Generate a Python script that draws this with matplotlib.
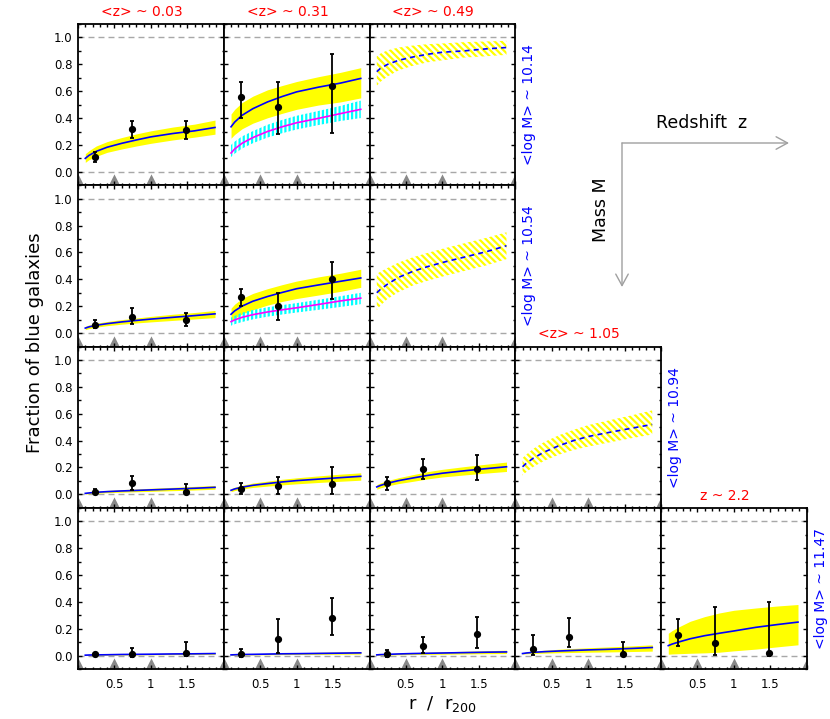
import matplotlib
matplotlib.use('Agg')
import matplotlib.pyplot as plt
from matplotlib.ticker import MultipleLocator, FixedLocator, FixedFormatter, FormatStrFormatter

plt.rcParams['font.family'] = ['DejaVu Sans']
plt.rcParams['hatch.linewidth'] = 1.6

# panel grid (row = mass bin, col = redshift bin)
PANELS = [(0, 0), (0, 1), (0, 2),
          (1, 0), (1, 1), (1, 2),
          (2, 0), (2, 1), (2, 2), (2, 3),
          (3, 0), (3, 1), (3, 2), (3, 3), (3, 4)]
Z_LABELS = ['<z> ~ 0.03', '<z> ~ 0.31', '<z> ~ 0.49', '<z> ~ 1.05', 'z ~ 2.2']
M_LABELS = ['<log M> ~ 10.14', '<log M> ~ 10.54', '<log M> ~ 10.94', '<log M> ~ 11.47']

# panels with only a predicted (hatched) band
PREDICTED = [False, False, True, False, False, True, False, False, False, True,
             False, False, False, False, False]

X_FIT = [0.1, 0.15, 0.25, 0.4, 0.6, 0.8, 1.0, 1.3, 1.6, 1.88]
X_PTS = [0.24, 0.74, 1.48]
X_TRI = [0.0, 0.5, 1.0, 2.0]

FIT_MID = [
    [0.10, 0.122, 0.152, 0.183, 0.212, 0.237, 0.26, 0.285, 0.305, 0.33],
    [0.335, 0.37, 0.42, 0.47, 0.52, 0.56, 0.595, 0.63, 0.66, 0.695],
    [0.745, 0.77, 0.80, 0.83, 0.855, 0.875, 0.89, 0.90, 0.915, 0.925],
    [0.037, 0.046, 0.058, 0.07, 0.083, 0.094, 0.104, 0.117, 0.13, 0.143],
    [0.14, 0.165, 0.20, 0.237, 0.272, 0.302, 0.33, 0.358, 0.385, 0.41],
    [0.30, 0.325, 0.365, 0.415, 0.46, 0.495, 0.525, 0.565, 0.605, 0.65],
    [0.007, 0.01, 0.015, 0.02, 0.025, 0.029, 0.033, 0.039, 0.045, 0.052],
    [0.03, 0.04, 0.053, 0.067, 0.08, 0.092, 0.102, 0.113, 0.124, 0.134],
    [0.055, 0.066, 0.083, 0.102, 0.122, 0.141, 0.157, 0.175, 0.191, 0.205],
    [0.205, 0.23, 0.27, 0.315, 0.362, 0.4, 0.43, 0.462, 0.492, 0.52],
    [0.003, 0.004, 0.005, 0.006, 0.008, 0.009, 0.010, 0.012, 0.013, 0.015],
    [0.005, 0.006, 0.008, 0.009, 0.011, 0.013, 0.014, 0.016, 0.018, 0.02],
    [0.005, 0.007, 0.009, 0.012, 0.015, 0.017, 0.019, 0.022, 0.025, 0.027],
    [0.015, 0.019, 0.024, 0.029, 0.034, 0.038, 0.042, 0.047, 0.053, 0.06],
    [0.074, 0.085, 0.102, 0.125, 0.148, 0.166, 0.183, 0.21, 0.231, 0.249],
]
FIT_LO = [
    [0.07, 0.09, 0.115, 0.145, 0.17, 0.192, 0.212, 0.237, 0.258, 0.28],
    [0.25, 0.278, 0.32, 0.362, 0.402, 0.435, 0.465, 0.497, 0.52, 0.55],
    [0.64, 0.67, 0.71, 0.755, 0.79, 0.815, 0.83, 0.85, 0.86, 0.87],
    [0.025, 0.033, 0.044, 0.055, 0.066, 0.075, 0.083, 0.094, 0.105, 0.115],
    [0.09, 0.11, 0.142, 0.173, 0.208, 0.235, 0.257, 0.283, 0.31, 0.34],
    [0.17, 0.205, 0.255, 0.305, 0.355, 0.39, 0.42, 0.462, 0.503, 0.55],
    [0.002, 0.004, 0.008, 0.012, 0.016, 0.019, 0.022, 0.027, 0.032, 0.038],
    [0.02, 0.028, 0.04, 0.051, 0.061, 0.07, 0.078, 0.088, 0.097, 0.105],
    [0.038, 0.048, 0.063, 0.08, 0.097, 0.115, 0.129, 0.144, 0.158, 0.17],
    [0.14, 0.165, 0.205, 0.25, 0.295, 0.33, 0.355, 0.387, 0.418, 0.445],
    [0.001, 0.001, 0.002, 0.003, 0.004, 0.005, 0.006, 0.007, 0.008, 0.009],
    [0.002, 0.003, 0.004, 0.005, 0.006, 0.007, 0.008, 0.009, 0.010, 0.011],
    [0.002, 0.003, 0.004, 0.006, 0.008, 0.009, 0.010, 0.012, 0.014, 0.015],
    [0.011, 0.013, 0.016, 0.018, 0.021, 0.023, 0.025, 0.027, 0.03, 0.033],
    [0.01, 0.012, 0.014, 0.017, 0.02, 0.025, 0.035, 0.048, 0.065, 0.08],
]
FIT_HI = [
    [0.135, 0.157, 0.192, 0.225, 0.255, 0.282, 0.305, 0.333, 0.355, 0.385],
    [0.43, 0.465, 0.515, 0.563, 0.61, 0.642, 0.672, 0.708, 0.74, 0.775],
    [0.86, 0.88, 0.905, 0.925, 0.94, 0.95, 0.955, 0.965, 0.97, 0.975],
    [0.05, 0.06, 0.073, 0.086, 0.1, 0.112, 0.124, 0.14, 0.153, 0.168],
    [0.185, 0.215, 0.257, 0.295, 0.33, 0.36, 0.387, 0.418, 0.445, 0.475],
    [0.44, 0.457, 0.485, 0.525, 0.565, 0.597, 0.627, 0.668, 0.708, 0.75],
    [0.013, 0.017, 0.023, 0.029, 0.035, 0.04, 0.045, 0.052, 0.059, 0.066],
    [0.042, 0.053, 0.067, 0.084, 0.098, 0.112, 0.123, 0.137, 0.15, 0.16],
    [0.072, 0.085, 0.103, 0.124, 0.147, 0.169, 0.186, 0.206, 0.224, 0.24],
    [0.27, 0.295, 0.34, 0.39, 0.44, 0.48, 0.515, 0.552, 0.588, 0.625],
    [0.006, 0.007, 0.009, 0.010, 0.012, 0.014, 0.015, 0.017, 0.019, 0.021],
    [0.009, 0.010, 0.012, 0.014, 0.016, 0.019, 0.021, 0.024, 0.027, 0.03],
    [0.009, 0.011, 0.014, 0.018, 0.022, 0.025, 0.028, 0.032, 0.036, 0.04],
    [0.019, 0.025, 0.032, 0.04, 0.047, 0.053, 0.058, 0.065, 0.072, 0.08],
    [0.166, 0.185, 0.215, 0.255, 0.29, 0.317, 0.337, 0.354, 0.369, 0.38],
]

# second (lower-mass-cut) fit shown at <z> ~ 0.31
LOWM_PANELS = [1, 4]
LOWM_MID = [
    [0.14, 0.17, 0.212, 0.255, 0.3, 0.335, 0.365, 0.398, 0.433, 0.465],
    [0.085, 0.098, 0.117, 0.137, 0.157, 0.173, 0.188, 0.213, 0.239, 0.26],
]
LOWM_LO = [
    [0.11, 0.135, 0.173, 0.213, 0.255, 0.287, 0.315, 0.348, 0.378, 0.40],
    [0.055, 0.066, 0.082, 0.102, 0.122, 0.138, 0.153, 0.173, 0.194, 0.215],
]
LOWM_HI = [
    [0.20, 0.225, 0.263, 0.303, 0.35, 0.386, 0.417, 0.453, 0.49, 0.53],
    [0.115, 0.128, 0.152, 0.172, 0.192, 0.208, 0.223, 0.248, 0.274, 0.30],
]

# measured fractions with errors (None = no data)
PTS_Y = [[0.11, 0.32, 0.31], [0.56, 0.48, 0.64], None,
         [0.062, 0.12, 0.10], [0.27, 0.20, 0.40], None,
         [0.02, 0.087, 0.017], [0.04, 0.06, 0.08], [0.087, 0.19, 0.19], None,
         [0.01, 0.01, 0.02], [0.01, 0.12, 0.28], [0.012, 0.072, 0.16], [0.05, 0.14, 0.01], [0.15, 0.09, 0.02]]
PTS_LO = [[0.075, 0.25, 0.245], [0.40, 0.28, 0.29], None,
          [0.037, 0.07, 0.05], [0.20, 0.10, 0.25], None,
          [0.005, 0.035, 0.0], [0.005, 0.005, 0.005], [0.035, 0.115, 0.105], None,
          [0.0, -0.01, 0.0], [-0.01, 0.02, 0.15], [-0.007, 0.02, 0.055], [0.005, 0.067, 0.0], [0.07, 0.005, 0.0]]
PTS_HI = [[0.15, 0.38, 0.38], [0.67, 0.67, 0.88], None,
          [0.10, 0.185, 0.15], [0.33, 0.30, 0.53], None,
          [0.037, 0.14, 0.08], [0.087, 0.13, 0.20], [0.13, 0.26, 0.29], None,
          [0.02, 0.06, 0.10], [0.05, 0.27, 0.43], [0.04, 0.14, 0.29], [0.15, 0.28, 0.10], [0.27, 0.36, 0.40]]

W, H = 830, 719
COL_LEFT = [78, 223.75, 369.5, 515.25, 661]
PW, PH = 145.75, 161.25
ROW_TOP = 24

fig = plt.figure(figsize=(W / 100, H / 100), dpi=100)
tri = [(-1, 0), (1, 0), (0, 2)]

n_cols_in_row = {}
for r, c in PANELS:
    n_cols_in_row[r] = max(n_cols_in_row.get(r, 0), c + 1)
first_row_of_col = {}
for r, c in PANELS:
    if c not in first_row_of_col:
        first_row_of_col[c] = r

for k, (r, c) in enumerate(PANELS):
    top = ROW_TOP + r * PH
    ax = fig.add_axes([COL_LEFT[c] / W, 1 - (top + PH) / H, PW / W, PH / H])
    ax.set_xlim(0, 2)
    ax.set_ylim(-0.1, 1.1)

    for yl in (0, 1):
        ax.axhline(yl, color='#a8a8a8', lw=1, ls=(0, (4.3, 2.9)), zorder=0.5)
    ax.plot(X_TRI, [-0.1] * len(X_TRI), ls='none', marker=tri, ms=16,
            color='#888888', mew=0, zorder=0.6)

    if PREDICTED[k]:
        ax.fill_between(X_FIT, FIT_LO[k], FIT_HI[k], facecolor='none',
                        edgecolor='#ffff00', hatch='\\' * 5, lw=0, zorder=1)
        ax.plot(X_FIT, FIT_MID[k], color='#0000ff', lw=1.2, ls=(0, (3, 2.5)), zorder=2)
    else:
        ax.fill_between(X_FIT, FIT_LO[k], FIT_HI[k], color='#ffff00', lw=0, zorder=1)
        ax.plot(X_FIT, FIT_MID[k], color='#0000ff', lw=1.2, zorder=2)
        if k in LOWM_PANELS:
            j = LOWM_PANELS.index(k)
            ax.fill_between(X_FIT, LOWM_LO[j], LOWM_HI[j], facecolor='none',
                            edgecolor='#00ffff', hatch='||||', lw=0, zorder=1.5)
            ax.plot(X_FIT, LOWM_MID[j], color='#ff00ff', lw=1.2, zorder=2)
        y = PTS_Y[k]
        err = [[v - lo for v, lo in zip(y, PTS_LO[k])], [hi - v for v, hi in zip(y, PTS_HI[k])]]
        ax.errorbar(X_PTS, y, yerr=err, fmt='o', color='black', ms=4.2,
                    elinewidth=1.3, capsize=1.6, capthick=1.3, zorder=4)

    # IDL-like axes
    for sp in ax.spines.values():
        sp.set_linewidth(1.3)
    ax.xaxis.set_major_locator(FixedLocator([0, 0.5, 1, 1.5, 2]))
    ax.xaxis.set_major_formatter(FixedFormatter(['', '0.5', '1', '1.5', '']))
    ax.xaxis.set_minor_locator(MultipleLocator(0.1))
    ax.yaxis.set_major_locator(MultipleLocator(0.2))
    ax.yaxis.set_major_formatter(FormatStrFormatter('%.1f'))
    ax.yaxis.set_minor_locator(MultipleLocator(0.1))
    ax.tick_params(which='both', direction='in', top=True, right=True,
                   labelsize=8.5, width=1)
    ax.tick_params(which='major', length=3.2)
    ax.tick_params(which='minor', length=1.8)
    ax.tick_params(axis='x', pad=6.5)
    ax.tick_params(axis='y', pad=3.8)
    if c != 0:
        ax.tick_params(labelleft=False)
    if r != 3:
        ax.tick_params(labelbottom=False)

    if first_row_of_col[c] == r:
        ax.text(0.438, 1 + 12 / PH, Z_LABELS[c], transform=ax.transAxes,
                ha='center', va='center', color='#ff0000', fontsize=10)
    if c == n_cols_in_row[r] - 1:
        ax.text(1 + 14 / PW, 0.5, M_LABELS[r], transform=ax.transAxes, rotation=90,
                ha='center', va='center', color='#0000ff', fontsize=10)

# overlay in pixel units for labels and the direction arrows
ov = fig.add_axes([0, 0, 1, 1])
ov.set_xlim(0, W)
ov.set_ylim(H, 0)
ov.axis('off')
arrow = dict(arrowstyle='->,head_length=0.55,head_width=0.3', color='#a0a0a0',
             lw=1, shrinkA=0, shrinkB=0, mutation_scale=15)
ov.annotate('', xy=(789, 143), xytext=(622, 143), arrowprops=arrow)
ov.annotate('', xy=(622, 287), xytext=(622, 143), arrowprops=arrow)
ov.text(702, 123, 'Redshift  z', ha='center', va='center', fontsize=12.5)
ov.text(601, 210, 'Mass M', ha='center', va='center', rotation=90, fontsize=12.5)
ov.text(35, 343, 'Fraction of blue galaxies', ha='center', va='center',
        rotation=90, fontsize=13)
ov.text(443, 704, r'r  /  r$_{200}$', ha='center', va='center', fontsize=13)

fig.savefig('out.png', dpi=100)
